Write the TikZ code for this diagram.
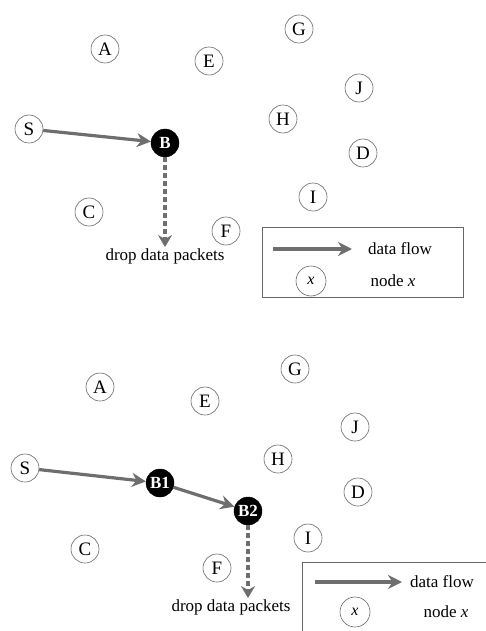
\documentclass[tikz,border=0pt]{standalone}
\usepackage{fontspec}
\setmainfont{Liberation Serif}
\usetikzlibrary{arrows.meta}
\definecolor{flowgray}{HTML}{6E6E6E}
\tikzset{
  nd/.style={circle, draw=black!60, line width=0.6pt, minimum size=28pt, inner sep=0pt, font=\fontsize{19}{21}\selectfont},
  bnd/.style={circle, fill=black, draw=black, minimum size=28pt, inner sep=0pt, text=white, font=\fontsize{17}{19}\selectfont\bfseries},
  flow/.style={draw=flowgray, line width=3.2pt, -{Stealth[length=14pt,width=14pt]}},
  dropf/.style={draw=flowgray, line width=3.2pt, dash pattern=on 5pt off 3pt, -{Stealth[length=12pt,width=14pt]}},
  lbl/.style={font=\fontsize{17}{19}\selectfont, inner sep=1pt},
  legbox/.style={draw=black!60, line width=0.7pt}
}
\begin{document}
\begin{tikzpicture}[x=1pt,y=-1pt]
\useasboundingbox (0,0) rectangle (486,631);
\clip (0,0) rectangle (486,631);
% ---------- top panel ----------
\node[nd] (A1) at (105,49) {A};
\node[nd] (E1) at (209,61) {E};
\node[nd] (G1) at (299,29) {G};
\node[nd] (J1) at (359,88) {J};
\node[nd] (H1) at (283,119) {H};
\node[nd] (D1) at (363,153) {D};
\node[nd] (S1) at (29,129) {S};
\node[bnd] (B1) at (165,143) {B};
\node[nd] (C1) at (89,212) {C};
\node[nd] (F1) at (226,231) {F};
\node[nd] (I1) at (313,197) {I};
\node[lbl] (drop1) at (165,256) {drop data packets};
\draw[flow] (S1) -- (B1);
\draw[dropf] (B1) -- (drop1.north);
% legend top
\draw[legbox] (262,227) rectangle (463,297);
\coordinate (la1) at (273,249);
\coordinate (lb1) at (352,249);
\draw[flow] (la1) -- (lb1);
\node[lbl] (df1) at (400,249) {data flow};
\node[nd, minimum size=30pt, font=\fontsize{16}{18}\selectfont\itshape] (lx1) at (311,281) {x};
\node[lbl] (nx1) at (393,281) {node \textit{x}};
% ---------- bottom panel ----------
\node[nd] (A2) at (100,387) {A};
\node[nd] (E2) at (205,401) {E};
\node[nd] (G2) at (295,369) {G};
\node[nd] (J2) at (355,427) {J};
\node[nd] (H2) at (278,459) {H};
\node[nd] (D2) at (358,492) {D};
\node[nd] (S2) at (25,468) {S};
\node[bnd] (B12) at (160,483) {B1};
\node[bnd] (B22) at (248,511) {B2};
\node[nd] (C2) at (85,549) {C};
\node[nd] (F2) at (217,568) {F};
\node[nd] (I2) at (308,538) {I};
\node[lbl] (drop2) at (231,607) {drop data packets};
\draw[flow] (S2) -- (B12);
\draw[flow] (B12) -- (B22);
\draw[dropf] (B22) -- (B22 |- drop2.north);
% legend bottom
\draw[legbox] (302,562) rectangle (495,640);
\coordinate (la2) at (315,582);
\coordinate (lb2) at (402,582);
\draw[flow] (la2) -- (lb2);
\node[lbl] (df2) at (442,582) {data flow};
\node[nd, minimum size=30pt, font=\fontsize{16}{18}\selectfont\itshape] (lx2) at (355,612) {x};
\node[lbl] (nx2) at (446,612) {node \textit{x}};
\end{tikzpicture}
\end{document}
